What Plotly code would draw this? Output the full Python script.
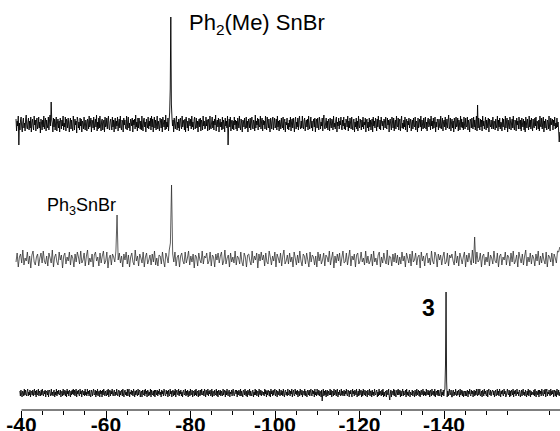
import numpy as np
import plotly.graph_objects as go

# ---------------- data (119Sn NMR traces, ppm) ----------------
ppm_start_top = -38.7
ppm_start_mid = -38.7
ppm_start_bot = -39.6
ppm_end = -167.4

noise_top = [
    5,-7,3,-2,8,-5,1,-6,4,7,-3,-8,2,6,-4,1,-7,5,9,-3,-5,2,6,-6,
    3,-4,7,-8,1,5,-2,-6,8,-1,4,-7,3,6,-5,-2,7,-4,2,-9,5,1,-6,4,
    -3,8,-5,2,6,-7,4,-1,-4,7,-6,3,9,-2,-5,4,1,-8,6,-3,5,-6,2,7,
    -7,1,5,-4,3,-8,6,2,-5,4,-2,8,-6,1,-3,7,-7,5,3,-4,6,-1,-8,2,
    6,-5,4,-3,-7,8,2,-6,5,-1,3,-9,7,4,-4,2,-6,6,-2,5,-8,3,1,-5,
    7,-2,-6,4,1,-7,5,3,-5,8,-3,-1,6,-8,4,2,-4,7,-6,1,5,-3,9,-7,
    2,-5,6,-4,8,-2,-7,3,5,-6,1,4,-8,7,-3,-2,6,-5,3,8,-4,-6,2,5,
    -1,-6,7,-3,4,-8,2,6,-5,3,-2,7,-7,1,5,-4,8,-3,-6,4,2,-8,6,-1,
    4,-3,-5,8,-6,2,7,-4,1,-7,5,3,-2,6,-8,4,-1,5,-5,9,-3,2,-7,6,
    -4,6,1,-5,3,-6,8,-2,-7,4,6,-3,2,-8,5,1,-4,7,-5,3,-2,6,-6,8,
    -3,5,-8,2,7,-4,4,-6,1,8,-5,3,-2,-7,6,2,-4,5,-8,7,1,-3,4,-6,
    9,-5,2,-3,6,-7,3,5,-4,1,-6,7,-2,4,-8,6,-1,-5,3,8,-6,2,-4,5,
    -7,3,6,-2,-5,8,-3,1,4,-6,5,-8,7,2,-4,3,-7,6,1,-2,5,-5,8,-3,
    2,-6,4,7,-5,-1,6,-4,3,-8,2,5,-3,6,-7,4,1,-6,8,-2,3,-5,-4,7,
    -2,4,-7,5,1,-6,8,-3,-5,2,7,-4,3,-6,5,-1,9,-7,2,4,-3,6,-8,1,
    5,-3,2,-6,7,-5,4,1,-8,6,-2,3,-4,8,-6,-1,5,-3,7,-7,2,4,-5,3,
    -6,7,-1,4,-5,3,-7,6,2,-4,8,-2,-6,5,1,-8,4,3,-3,6,-5,-2,7,-4,
    3,-8,5,2,-4,6,-6,1,7,-3,-5,4,2,-7,9,-4,3,-1,6,-6,5,-2,-3,8,
    -5,2,6,-7,4,-1,3,-5,8,-2,-6,7,1,-4,5,-3,-8,6,2,-5,4,7,-6,1,
    6,-4,-2,5,-6,8,-3,3,-7,4,1,-5,6,-2,-4,7,-6,3,5,-8,2,-1,6,-5,
    1,-6,4,-3,7,-7,2,5,-4,6,-1,-8,3,7,-5,2,-3,6,-6,4,8,-2,-5,3,
    -4,8,-2,-5,3,6,-7,1,4,-3,5,-6,8,-1,-5,2,7,-4,3,-7,1,5,-3,6,
    -8,2,5,-4,6,-1,-6,7,3,-5,2,-2,6,-7,4,9,-3,-5,1,6,-4,3,-6,5,
    2,-7,6,-1,-4,5,3,-6,8,-3,1,-5,4,7,-8,2,-2,6,-5,3,-1,7,-4,-6,
    4,-2,7,-5,1,-6,5,2,-3,8,-7,3,-4,6,1,-5,7,-2,-6,4,5,-8,2,-3,
    6,-5,3,-7,8,-2,-4,5,1,-6,4,-3,7,-5,2,-1,6,-8,3,5,-4,2,-7,6,
    -3,4,-6,1,5,-8,7,-2,3,-4,6,2,-7,5,-3,8,-1,-5,4,-6,7,1,-2,3,
    -6,5,2,-4,7,-3,-5,6,-1,4,-8,3,5,-2,-6,7,2,-4,6,-7,1,4,-5,8,
    -2,-3,6,-6,3,5,-7,2,8,-4,1,-5,4,-3,7,-6,2,5,-8,3,-1,6,-4,2,
    5,-7,1,4,-5,6,-2,-3,7,-6,3,2,-8,6,-4,1,5,-3,8,-7,4,-1,-5,6,
    -4,3,7,-5,2,-7,4,6,-3,-1,5,-6,8,-2,3,-5,6,-4,1,7,-8,2,-3,5,
    3,-6,5,-2,-4,8,-5,1,6,-7,2,4,-3,7,-6,-1,5,-4,3,9,-5,-2,6,-7,
    1,5,-4,3,-8,6,2,-5,7,-3,-2,6,-7,4,1,-6,8,-3,5,-4,2,-6,7,-1,
    -5,6,-3,-2,7,-6,4,1,-8,5,3,-4,6,-2,-5,7,-3,4,-6,2,8,-7,3,-4,
    6,-1,-6,5,-3,4,-7,8,-2,3,-5,1,7,-6,4,-4,2,6,-8,5,-1,-3,4,-5,
    -2,7,-5,3,2,-6,5,-4,-1,8,-7,4,-3,6,-5,2,1,-7,6,-3,5,-2,-6,8,
    -4,2,6,-8,4,-2,-5,7,3,-6,1,5,-4,8,-3,-6,4,2,-7,6,-1,3,-5,7,
    2,-5,4,-7,6,1,-3,5,-6,3,-8,7,2,-4,5,-1,-6,8,-3,4,-5,6,-2,-7,
    5,-3,-4,6,-2,7,-6,3,1,-5,4,-7,8,-2,-3,6,-5,2,7,-8,3,-4,5,-1,
    -6,4,2,-5,8,-3,-7,6,-1,3,5,-6,4,-2,7,-5,1,-4,6,-3,2,-7,5,-8,
]
noise_mid = [
    -3,6,-8,2,5,-4,9,-6,1,-2,7,-5,3,-9,4,8,-3,-6,2,5,-7,1,6,-4,
    8,-2,-5,3,-7,6,1,-4,9,-8,2,5,-3,-6,7,-1,4,-9,3,6,-5,2,-2,7,
    -6,4,1,-8,5,-3,7,2,-5,8,-4,-1,6,-7,3,9,-6,1,-3,5,-8,4,7,-2,
    2,-7,6,-4,3,8,-5,-2,7,-9,1,4,-6,5,2,-3,8,-7,-1,6,-4,3,-8,5,
    -1,7,-5,4,-8,2,6,-3,-6,9,-2,3,-7,5,1,-4,7,-8,2,6,-5,-1,4,-6,
    5,-3,8,-6,1,-7,4,3,-5,7,-2,-8,6,2,-4,9,-6,-1,5,-3,7,-7,2,4,
    -8,3,6,-2,-5,7,-4,1,8,-6,3,-3,5,-9,4,2,-7,6,-1,-4,8,-5,3,1,
    6,-5,-2,7,-7,4,2,-8,5,-1,6,-4,3,7,-6,-2,9,-5,1,4,-8,6,-3,2,
    -4,8,-6,3,1,-5,7,-3,-7,6,2,-8,4,5,-2,-6,8,-4,3,-1,6,-9,5,-2,
    7,-1,4,-7,6,-3,-5,8,2,-6,3,-2,7,-8,5,1,-4,6,-7,3,9,-5,-2,4,
    -5,6,-3,2,-8,7,1,-6,4,-4,8,-2,-7,5,3,-5,6,-1,-8,7,-3,4,2,-6,
    3,-8,7,-2,5,-5,-1,6,-7,4,2,-3,8,-6,1,7,-9,3,-4,5,-2,6,-7,1,
    8,-4,-3,6,-6,2,9,-7,3,-1,5,-8,4,6,-5,-2,7,-3,1,-6,8,-4,3,-5,
    -2,5,-7,8,-3,1,-6,4,7,-8,2,-4,6,-1,-5,9,-6,3,2,-7,5,-3,6,-4,
    4,-6,2,-5,7,-2,3,-8,6,1,-4,5,-7,8,-3,-1,6,-6,2,4,-9,7,-2,3,
    -7,3,6,-4,1,-6,8,-2,-5,7,3,-8,5,-1,4,-6,2,7,-5,-3,6,-7,4,1,
    5,-2,-6,8,-4,3,-7,6,1,-5,2,7,-8,4,-3,6,-1,-6,9,-4,2,-5,7,-3,
    -1,6,-8,3,5,-6,2,-3,7,-7,4,1,-5,8,-2,-4,6,-8,3,5,-6,2,-1,7,
    -6,4,2,-7,6,-3,8,-5,-2,4,-8,7,1,-4,5,-6,3,9,-7,2,-3,6,-5,4,
    1,-7,5,-2,8,-6,3,-4,6,-1,-5,7,-8,4,2,-3,6,-7,5,1,-4,8,7,12,
]
noise_bot = [
    2,-3,3,-1,-4,2,1,-3,4,-2,3,-1,-3,2,4,-3,1,-2,3,-4,2,1,-2,3,
    -3,1,4,-2,2,-4,3,-1,-2,4,-3,2,1,-3,3,-2,4,-1,-3,2,-1,3,-4,2,
    1,-2,3,-4,2,3,-1,-3,4,-2,1,-3,2,3,-4,1,-2,4,-3,2,-1,3,-2,-1,
    3,-4,1,2,-3,4,-2,-1,3,-3,2,-4,4,-1,2,-3,3,1,-4,2,-2,3,-1,4,
    -2,3,-3,1,4,-4,2,-1,3,-2,-3,4,-1,2,-4,3,1,-2,2,-3,4,-2,1,-3,
    4,-1,2,-3,3,-2,-4,3,1,-3,2,4,-2,-1,3,-4,2,-2,4,-3,1,2,-4,3,
    -1,2,-4,3,-2,4,1,-3,2,-1,-3,3,-2,4,-4,1,3,-3,2,-1,4,-2,-3,2,
    3,-3,1,-2,4,-1,-3,2,3,-4,2,-2,1,3,-3,4,-1,-4,2,3,-2,1,-3,4,
    -3,2,4,-4,1,-1,3,-2,2,-3,4,1,-4,2,-2,3,-1,-3,4,-2,2,3,-4,1,
    2,-4,3,-1,-2,3,-3,4,-1,2,-4,3,2,-3,1,-2,4,-4,3,-1,-2,2,-3,3,
    -4,3,1,-2,3,-3,2,-1,4,-2,1,-4,3,-1,2,-3,4,2,-2,-3,3,-1,2,-4,
    3,-2,-3,4,-1,2,-4,1,3,-3,2,-2,4,-4,1,3,-1,-2,4,-3,2,-1,3,-3,
    1,-4,2,3,-2,-1,4,-3,2,-2,3,-4,1,2,-3,4,-2,-1,3,-4,2,1,-3,3,
    -2,4,-3,1,2,-4,3,-1,-3,3,-2,4,-1,-2,2,-3,4,1,-4,3,-1,-2,4,-3,
    2,-1,3,-3,-2,4,-4,2,1,-3,3,-1,-2,4,-3,2,-4,3,1,-2,3,-3,2,-1,
    -3,4,-2,1,3,-4,2,-2,4,-1,-3,2,3,-4,1,-1,3,-3,2,4,-2,-3,1,3,
    -1,3,-4,2,-2,3,1,-3,4,-3,2,-1,-4,3,2,-2,4,-1,-3,2,-4,3,1,-2,
    4,-3,2,-1,-3,2,3,-4,1,-2,4,-2,3,-3,1,2,-4,4,-1,-2,3,-3,2,1,
    -2,1,-3,4,-1,3,-4,2,-2,3,1,-3,2,-4,4,-1,2,-3,3,-2,1,4,-3,-1,
    3,-4,2,1,-2,4,-3,-1,3,-2,2,-3,4,-1,-4,2,3,-2,1,-3,4,-2,-1,3,
    -3,2,-1,4,-4,1,3,-2,-3,4,-1,2,-2,3,-4,1,2,-3,4,-1,-2,3,-4,2,
    1,-2,4,-3,2,-1,-4,3,2,-2,3,-3,1,4,-2,-3,3,-1,2,-4,4,-2,1,-3,
    4,-1,-2,3,-3,2,1,-4,3,-2,-1,4,-3,2,-2,3,-4,1,3,-3,2,-1,-2,4,
    -2,3,-4,1,2,-3,4,-2,-1,3,-3,2,4,-4,1,-2,3,-1,-3,4,-2,2,-3,1,
    3,-3,2,-1,4,-2,-3,3,1,-4,2,-1,3,-2,-4,4,-1,2,-3,3,1,-2,4,-4,
    -1,2,-3,4,-2,1,3,-4,2,-3,4,-1,-2,3,-3,2,1,-4,3,-1,-2,4,-3,2,
    2,-4,3,-2,1,-3,4,-1,-2,2,3,-4,1,-3,4,-2,2,-1,-3,3,-2,4,-4,1,
    -3,1,2,-4,3,-1,-2,4,-3,2,-1,3,-4,2,1,-2,4,-3,3,-1,-4,2,3,-2,
    4,-2,-1,3,-4,2,-3,1,4,-3,2,-2,-1,3,-4,4,-2,1,-3,2,3,-4,1,-1,
    -2,3,-3,2,1,-4,3,-1,-3,4,-2,1,3,-3,2,-4,1,3,-2,-1,4,-3,2,-2,
    1,-3,4,-2,-1,3,-2,2,-4,3,1,-3,4,-1,-2,2,-3,4,-4,1,2,-2,3,-3,
    3,-1,-3,2,4,-4,1,-2,3,-3,2,4,-2,-1,3,-4,2,-3,1,4,-2,-1,3,-4,
    -4,2,3,-3,1,-2,4,-1,-3,2,-2,3,1,-4,4,-2,-1,3,-3,2,-4,1,2,-3,
    2,-3,1,3,-4,2,-1,4,-2,-3,3,-1,2,-4,1,3,-3,2,-2,4,-1,-3,4,-2,
    -1,4,-3,-2,2,-4,3,1,-3,4,-1,2,-2,-3,3,-4,2,4,-1,-2,3,-3,1,2,
    3,-2,2,-4,1,3,-3,-1,4,-2,2,-3,4,1,-4,2,-1,3,-2,-3,4,-1,2,-4,
    -3,1,4,-1,-2,3,-4,2,-3,3,1,-2,4,-4,2,-1,3,-3,-2,4,-1,1,-3,3,
    2,-4,-1,3,-3,2,4,-2,1,-3,3,-1,-4,2,-2,4,-3,1,3,-4,2,-2,1,-1,
    -2,3,-3,4,-1,-4,2,1,-2,3,-4,3,-1,2,-3,4,1,-2,-3,3,-1,4,-4,2,
    4,-3,1,-1,3,-2,-3,4,-2,2,-1,3,-4,1,3,-3,2,-4,4,-1,-2,3,-3,1,
]

# peaks / spikes: (ppm, intensity)
features_top = [(-39.4, -21), (-47.0, 22), (-75.13, 12), (-75.27, 35), (-75.4, 107),
                (-75.53, 20), (-88.9, -21), (-148.0, 19), (-167.2, -18)]
features_mid = [(-62.6, 44), (-75.13, 16), (-75.4, 74), (-147.3, 22)]
features_bot = [(-111.1, -8), (-127.2, -7), (-140.37, 28), (-140.5, 101), (-140.63, 12)]

labels_top = "Ph<sub>2</sub>(Me) SnBr"
labels_mid = "Ph<sub>3</sub>SnBr"
labels_bot = "<b>3</b>"

tick_values = [-40, -60, -80, -100, -120, -140]
tick_labels = ["-40", "-60", "-80", "-100", "-120", "-140"]

# ---------------- layout constants ----------------
W, H = 560, 431
offsets = [286, 151, 17]          # vertical stacking of traces
x_range = [-34.91, -167.45]
FONT = "Liberation Sans, Arial, sans-serif"


def build(start, noise, feats):
    x = np.linspace(start, ppm_end, len(noise))
    y = np.array(noise, dtype=float)
    for p, v in feats:
        y[int(np.argmin(np.abs(x - p)))] = v
    return x, y


fig = go.Figure()
specs = [
    (ppm_start_top, noise_top, features_top, "#000000", 0.9),
    (ppm_start_mid, noise_mid, features_mid, "#2a2a2a", 0.75),
    (ppm_start_bot, noise_bot, features_bot, "#000000", 0.85),
]
for (start, noise, feats, col, lw), off in zip(specs, offsets):
    x, y = build(start, noise, feats)
    fig.add_trace(go.Scatter(x=x, y=y + off, mode="lines",
                             line=dict(color=col, width=lw, simplify=False),
                             hoverinfo="skip", showlegend=False))

minor_ticks = [v for v in range(-45, -170, -5) if v % 20 != 0]

fig.update_layout(
    width=W, height=H,
    margin=dict(l=0, r=0, t=0, b=21),
    paper_bgcolor="white", plot_bgcolor="white",
    xaxis=dict(range=x_range, showgrid=False, zeroline=False, showline=False,
               automargin=False,
               tickmode="array", tickvals=tick_values, ticktext=tick_labels,
               ticks="outside", ticklen=8, tickwidth=1, tickcolor="black",
               ticklabelstandoff=-12,
               tickfont=dict(family=FONT, size=21, color="black", weight=700),
               minor=dict(tickmode="array", tickvals=minor_ticks, ticks="outside",
                          ticklen=4, tickwidth=1, tickcolor="black", showgrid=False)),
    yaxis=dict(range=[0, 410], visible=False, showgrid=False, zeroline=False,
               automargin=False),
    shapes=[dict(type="line", xref="x", yref="paper", x0=tick_values[0], x1=x_range[1],
                 y0=0, y1=0, line=dict(color="black", width=1))],
    annotations=[
        dict(x=-79.17, y=386, xref="x", yref="y", text=labels_top, showarrow=False,
             xanchor="left", yanchor="middle", font=dict(family=FONT, size=22, color="black")),
        dict(x=-45.56, y=204, xref="x", yref="y", text=labels_mid, showarrow=False,
             xanchor="left", yanchor="middle", font=dict(family=FONT, size=18, color="black")),
        dict(x=-138.4, y=102, xref="x", yref="y", text=labels_bot, showarrow=False,
             xanchor="right", yanchor="middle", font=dict(family=FONT, size=23, color="black")),
    ],
)

fig.write_html("out.html", config={"displayModeBar": False},
               post_script="document.body.style.margin='0px';")
